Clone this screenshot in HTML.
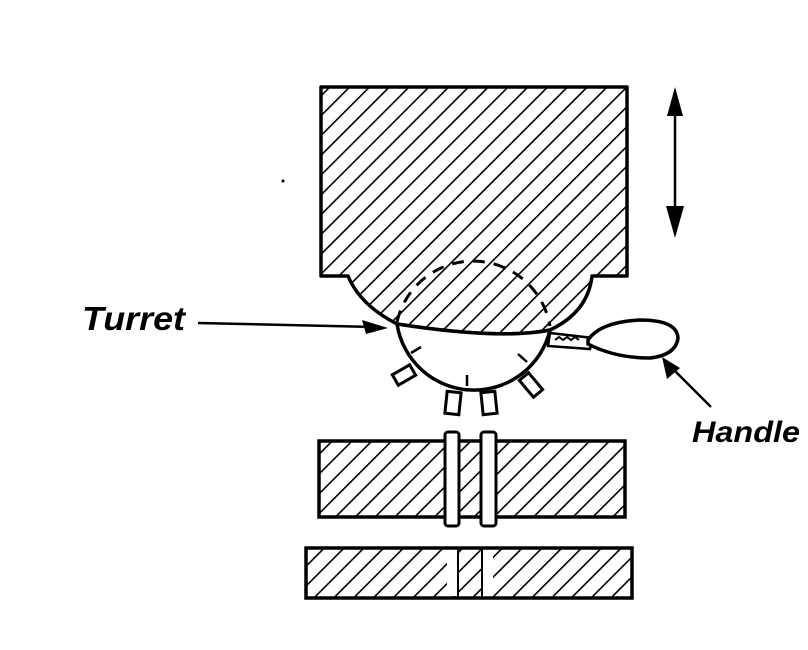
<!DOCTYPE html>
<html><head><meta charset="utf-8"><style>
html,body{margin:0;padding:0;background:#fff;}
svg{display:block;}
text{font-family:"Liberation Sans",sans-serif;font-style:italic;font-weight:bold;fill:#000;}
</style></head><body>
<svg width="808" height="650" viewBox="0 0 808 650" xmlns="http://www.w3.org/2000/svg">
<defs>
<pattern id="h" patternUnits="userSpaceOnUse" width="14" height="14" patternTransform="rotate(45)">
<rect width="14" height="14" fill="#fff"/>
<line x1="0" y1="0" x2="0" y2="14" stroke="#000" stroke-width="3.2"/>
</pattern>
</defs>
<!-- teeth (behind turret) -->
<g fill="#fff" stroke="#000" stroke-width="3">
<rect x="394" y="369" width="20" height="12" transform="rotate(-30 404 375)"/>
<rect x="446" y="392" width="14" height="22" transform="rotate(6 453 403)"/>
<rect x="482" y="392" width="14" height="22" transform="rotate(-6 489 403)"/>
<rect x="525" y="374" width="12" height="22" transform="rotate(-40 531 385)"/>
</g>
<!-- top block with bulge -->
<path d="M321,87 L627,87 L627,276 L592,276 Q588,312 550,330 Q500,340 397,324 Q360,305 348,276 L321,276 Z" fill="url(#h)" stroke="#000" stroke-width="3.5" stroke-linejoin="round"/>
<!-- dashed turret top -->
<path d="M397,322 A78,78 0 0 1 550,326" fill="none" stroke="#000" stroke-width="3" stroke-dasharray="12,9"/>
<!-- turret lower -->
<path d="M397,324 A78,78 0 0 0 550,330 Q500,340 397,324 Z" fill="#fff" stroke="#000" stroke-width="3.5"/>
<!-- ticks -->
<line x1="411" y1="353" x2="421" y2="347" stroke="#000" stroke-width="2.5"/>
<line x1="467" y1="375" x2="467" y2="386" stroke="#000" stroke-width="2.5"/>
<line x1="518" y1="354" x2="527" y2="362" stroke="#000" stroke-width="2.5"/>
<!-- handle -->
<path d="M550,333 L593,338 L590,349 L548,346 Z" fill="#fff" stroke="#000" stroke-width="2.5"/>
<path d="M555,340 l4,-3 l4,3 l4,-3 l4,3 l4,-3 l4,3" fill="none" stroke="#000" stroke-width="2"/>
<path d="M588,340 Q600,322 640,320 Q677,320 678,338 Q676,355 650,358 Q615,358 588,344 Z" fill="#fff" stroke="#000" stroke-width="3.5"/>
<!-- turret arrow -->
<line x1="198" y1="323" x2="375" y2="327" stroke="#000" stroke-width="2.5"/>
<polygon points="388,328 362,320 366,334" fill="#000"/>
<text x="82" y="330" font-size="33" textLength="103" lengthAdjust="spacingAndGlyphs">Turret</text>
<!-- handle arrow -->
<line x1="711" y1="407" x2="672" y2="368" stroke="#000" stroke-width="2.5"/>
<polygon points="662,357 667,379 680,368" fill="#000"/>
<text x="692" y="442" font-size="30" textLength="108" lengthAdjust="spacingAndGlyphs">Handle</text>
<!-- double arrow -->
<line x1="675" y1="100" x2="675" y2="225" stroke="#000" stroke-width="2.5"/>
<polygon points="675,87 667,116 683,116" fill="#000"/>
<polygon points="675,238 666,206 684,206" fill="#000"/>
<circle cx="283" cy="181" r="1.5" fill="#000"/>
<!-- middle plate -->
<rect x="319" y="441" width="306" height="76" fill="url(#h)" stroke="#000" stroke-width="3.5"/>
<rect x="445" y="432" width="14" height="94" rx="3" fill="#fff" stroke="#000" stroke-width="3"/>
<rect x="481" y="432" width="15" height="94" rx="3" fill="#fff" stroke="#000" stroke-width="3"/>
<!-- bottom plate -->
<rect x="306" y="548" width="326" height="50" fill="url(#h)" stroke="#000" stroke-width="3.5"/>
<rect x="447" y="550" width="11" height="46" fill="#fff"/>
<rect x="482" y="550" width="11" height="46" fill="#fff"/>
<line x1="458" y1="549" x2="458" y2="597" stroke="#000" stroke-width="2"/>
<line x1="482" y1="549" x2="482" y2="597" stroke="#000" stroke-width="2"/>
</svg>
</body></html>
